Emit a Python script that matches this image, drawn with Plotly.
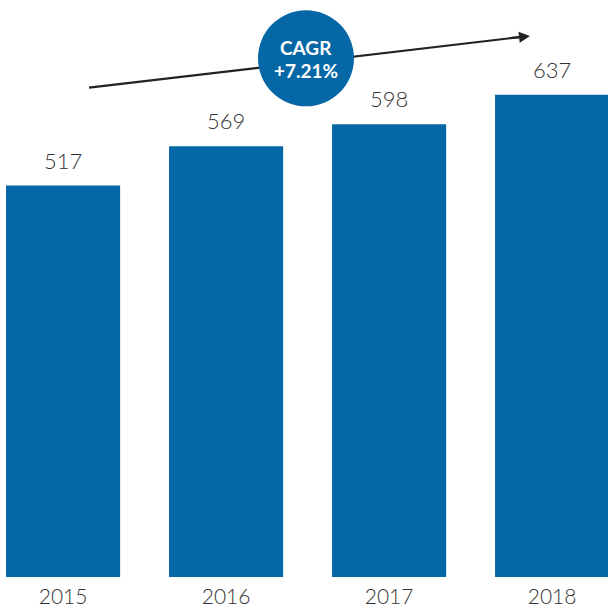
import plotly.graph_objects as go

years = ["2015", "2016", "2017", "2018"]
values = [517, 569, 598, 637]
cagr_title = "CAGR"
cagr_value = "+7.21%"

BLUE = "#0567A5"
TXT = "#333333"
FONT = "Lato, 'Open Sans', sans-serif"

W, H = 608, 608
ML, MR, MT, MB = 0, 0, 0, 29
PH = H - MT - MB

def px_x(p):
    return (p - ML) / (W - ML - MR)

def px_y(p):
    return (H - MB - p) / PH

fig = go.Figure()
fig.add_trace(go.Bar(
    x=list(range(len(years))), y=values, width=0.7,
    marker=dict(color=BLUE, line=dict(width=0)),
    hoverinfo="skip",
))

annotations = []
for i, v in enumerate(values):
    annotations.append(dict(
        x=i, y=v, xref="x", yref="y", text=str(v), showarrow=False,
        yanchor="bottom", yshift=10,
        font=dict(family=FONT, size=22, color=TXT, weight=300),
    ))

# arrow head
tip = (530, 36)
annotations.append(dict(
    x=px_x(tip[0]), y=px_y(tip[1]), xref="paper", yref="paper",
    ax=-19.9, ay=2.4, axref="pixel", ayref="pixel",
    showarrow=True, arrowhead=2, arrowsize=1.1, arrowwidth=2,
    arrowcolor="#222222", text="",
))
for txt, yc in ((cagr_title, 48), (cagr_value, 71)):
    annotations.append(dict(
        x=px_x(306), y=px_y(yc), xref="paper", yref="paper",
        xanchor="center", yanchor="middle",
        text="<b>" + txt + "</b>", showarrow=False,
        font=dict(family=FONT, size=19, color="white"),
    ))

shapes = [
    dict(type="line", xref="paper", yref="paper",
         x0=px_x(89), y0=px_y(88), x1=px_x(520), y1=px_y(37.2),
         line=dict(color="#222222", width=2.2), layer="above"),
    dict(type="circle", xref="paper", yref="paper",
         xsizemode="pixel", ysizemode="pixel",
         xanchor=px_x(306), yanchor=px_y(58.5),
         x0=-48, x1=48, y0=-48, y1=48,
         fillcolor=BLUE, line=dict(width=0), layer="above"),
]

fig.update_layout(
    width=W, height=H,
    margin=dict(l=ML, r=MR, t=MT, b=MB, pad=0),
    paper_bgcolor="white", plot_bgcolor="white",
    showlegend=False,
    xaxis=dict(
        range=[-0.387, 3.343], tickmode="array",
        tickvals=list(range(len(years))), ticktext=years,
        showgrid=False, zeroline=False, showline=False, ticks="",
        ticklabelstandoff=5,
        tickfont=dict(family=FONT, size=21, color=TXT, weight=300),
        fixedrange=True,
    ),
    yaxis=dict(
        range=[0, 762], visible=False, showgrid=False, zeroline=False,
        fixedrange=True,
    ),
    annotations=annotations,
    shapes=shapes,
)

fig.write_html(
    "out.html",
    config={"displayModeBar": False},
    post_script="document.body.style.margin='0';document.body.style.overflow='hidden';",
)
